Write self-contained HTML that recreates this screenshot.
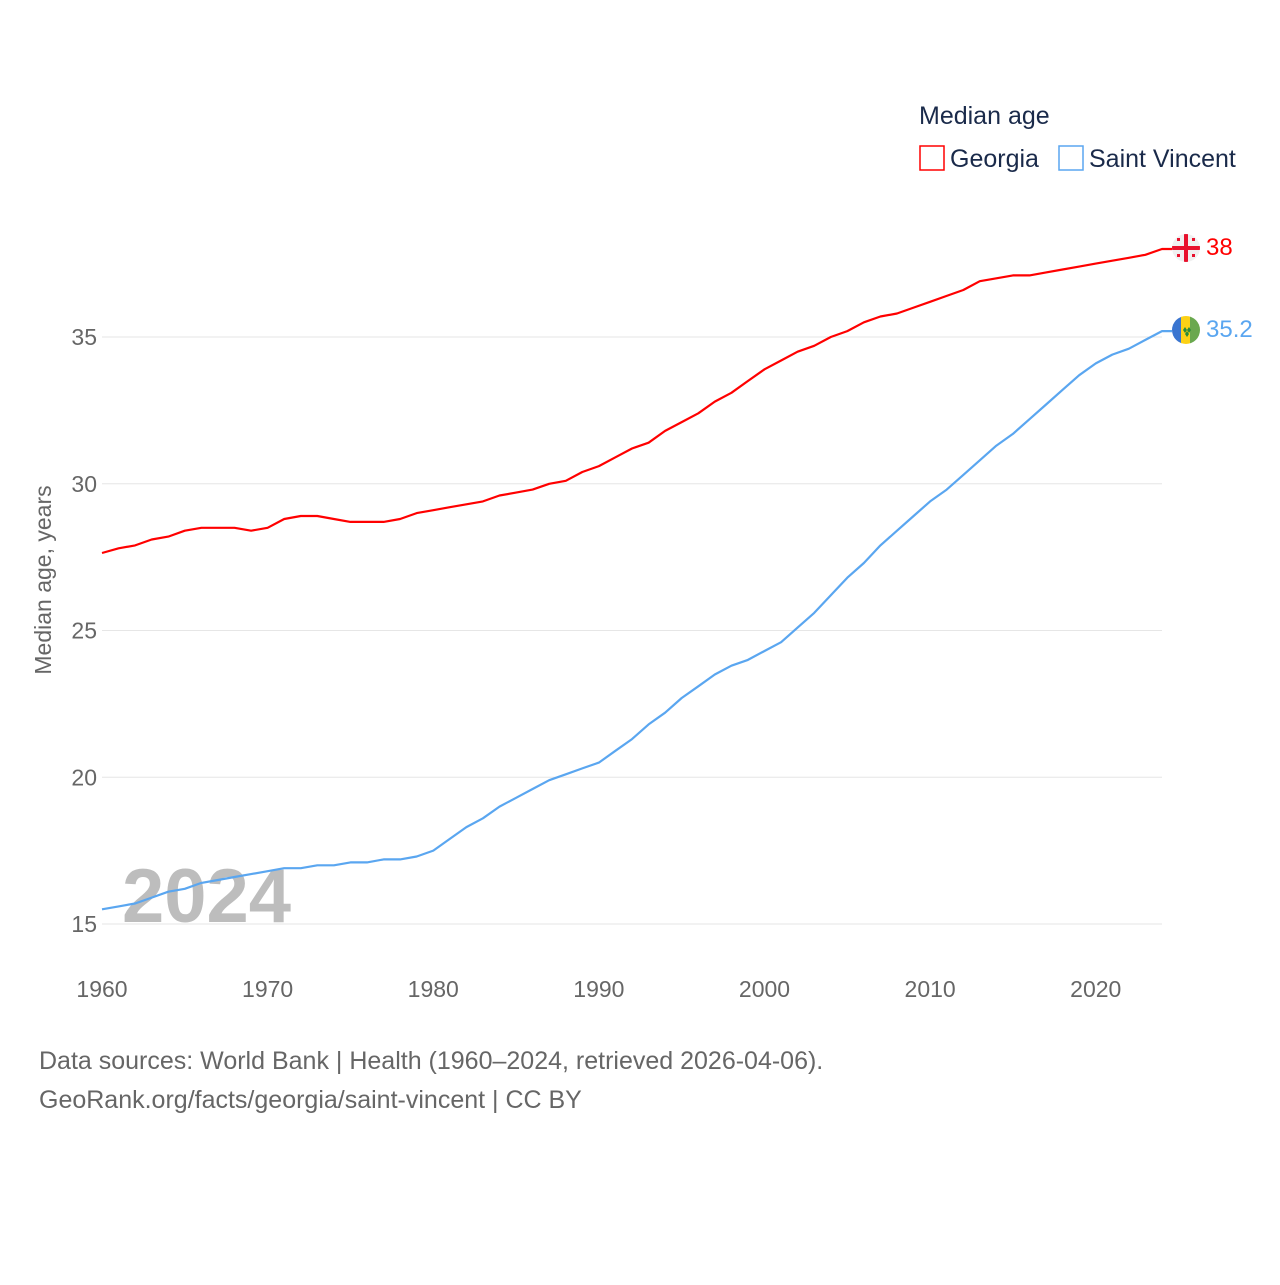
<!DOCTYPE html>
<html><head><meta charset="utf-8"><style>
body{margin:0;background:#fff;font-family:"Liberation Sans",sans-serif;}
svg text{font-family:"Liberation Sans",sans-serif;}
</style></head><body>
<svg id="chart" width="1280" height="1280" viewBox="0 0 1280 1280">
<g id="grid"></g>
<g id="xticks"></g>
<text x="51" y="580" transform="rotate(-90 51 580)" text-anchor="middle" font-size="23" fill="#666">Median age, years</text>
<text x="122" y="922" font-size="76" font-weight="bold" fill="#bdbdbd">2024</text>
<g id="lines"></g>
<g>
<text x="919" y="124" font-size="25" fill="#1a2a4a">Median age</text>
<g><rect x="920" y="146" width="24" height="24" fill="none" stroke="#f00" stroke-width="1.5"/><text x="950" y="167" font-size="25" fill="#1a2a4a">Georgia</text></g>
<g><rect x="1059" y="146" width="24" height="24" fill="none" stroke="#5aa6f0" stroke-width="1.5"/><text x="1089" y="167" font-size="25" fill="#1a2a4a">Saint Vincent</text></g>
</g>
<g>
<clipPath id="ge"><circle cx="1186" cy="248" r="14"/></clipPath>
<g clip-path="url(#ge)">
<rect x="1172" y="234" width="28" height="28" fill="#f0f0f0"/><rect x="1172" y="246" width="28" height="4" fill="#e8112d"/><rect x="1184" y="234" width="4" height="28" fill="#e8112d"/>
<g fill="#e8112d"><rect x="1177" y="238" width="3" height="3"/><rect x="1192" y="238" width="3" height="3"/><rect x="1177" y="254" width="3" height="3"/><rect x="1192" y="254" width="3" height="3"/></g>
</g>
</g>
<g>
<clipPath id="vc"><circle cx="1186" cy="330" r="14"/></clipPath>
<g clip-path="url(#vc)"><rect x="1172" y="316" width="10" height="28" fill="#3a75d0"/><rect x="1181" y="316" width="10" height="28" fill="#fcd116"/><rect x="1190" y="316" width="10" height="28" fill="#6aa84f"/>
<path d="M1183 330l2 -3 2 3 -2 3z M1187 330l2 -3 2 3 -2 3z M1185 334l2 -3 2 3 -2 3z" fill="#2a8a3a"/></g>
</g>
<text x="1206" y="255" font-size="24" fill="#f00">38</text>
<text x="1206" y="337" font-size="24" fill="#5aa6f0">35.2</text>
<text x="39" y="1069" font-size="25" fill="#666">Data sources: World Bank | Health (1960–2024, retrieved 2026-04-06).</text>
<text x="39" y="1108" font-size="25" fill="#666">GeoRank.org/facts/georgia/saint-vincent | CC BY</text>
</svg>
<script>
const years = [];
for (let y = 1960; y <= 2024; y++) years.push(y);
const georgia = [27.64,27.8,27.9,28.1,28.2,28.4,28.5,28.5,28.5,28.4,28.5,28.8,28.9,28.9,28.8,28.7,28.7,28.7,28.8,29.0,29.1,29.2,29.3,29.4,29.6,29.7,29.8,30.0,30.1,30.4,30.6,30.9,31.2,31.4,31.8,32.1,32.4,32.8,33.1,33.5,33.9,34.2,34.5,34.7,35.0,35.2,35.5,35.7,35.8,36.0,36.2,36.4,36.6,36.9,37.0,37.1,37.1,37.2,37.3,37.4,37.5,37.6,37.7,37.8,38.0];
const saintVincent = [15.5,15.6,15.7,15.9,16.1,16.2,16.4,16.5,16.6,16.7,16.8,16.9,16.9,17.0,17.0,17.1,17.1,17.2,17.2,17.3,17.5,17.9,18.3,18.6,19.0,19.3,19.6,19.9,20.1,20.3,20.5,20.9,21.3,21.8,22.2,22.7,23.1,23.5,23.8,24.0,24.3,24.6,25.1,25.6,26.2,26.8,27.3,27.9,28.4,28.9,29.4,29.8,30.3,30.8,31.3,31.7,32.2,32.7,33.2,33.7,34.1,34.4,34.6,34.9,35.2];
const yTicks = [15,20,25,30,35];
const xTicks = [1960,1970,1980,1990,2000,2010,2020];
const NS = "http://www.w3.org/2000/svg";
const xs = v => 102 + (v - 1960) * (1162 - 102) / 64;
const ys = v => 924 - (v - 15) * (924 - 337) / 20;
const grid = document.getElementById('grid');
yTicks.forEach(t => {
  const l = document.createElementNS(NS,'line');
  l.setAttribute('x1',102); l.setAttribute('x2',1162);
  l.setAttribute('y1',ys(t)); l.setAttribute('y2',ys(t));
  l.setAttribute('stroke','#e6e6e6'); l.setAttribute('stroke-width','1');
  
  
  grid.appendChild(l);
  const tx = document.createElementNS(NS,'text');
  tx.setAttribute('x',97); tx.setAttribute('y',ys(t)+8);
  tx.setAttribute('text-anchor','end'); tx.setAttribute('font-size','23'); tx.setAttribute('fill','#666');
  tx.textContent = t;
  
  
  grid.appendChild(tx);
});
const xg = document.getElementById('xticks');
xTicks.forEach(t => {
  const tx = document.createElementNS(NS,'text');
  tx.setAttribute('x',xs(t)); tx.setAttribute('y',997);
  tx.setAttribute('text-anchor','middle'); tx.setAttribute('font-size','23'); tx.setAttribute('fill','#666');
  tx.textContent = t;
  
  
  xg.appendChild(tx);
});
const lines = document.getElementById('lines');
function drawLine(vals, color, name) {
  let d = vals.map((v,i) => (i?'L':'M') + xs(years[i]).toFixed(1) + ' ' + ys(v).toFixed(1)).join(' ');
  d += ' L1172 ' + ys(vals[vals.length-1]).toFixed(1);
  const p = document.createElementNS(NS,'path');
  p.setAttribute('d', d); p.setAttribute('fill','none'); p.setAttribute('stroke',color);
  p.setAttribute('stroke-width','2.2'); p.setAttribute('stroke-linejoin','round');
  
  
  lines.appendChild(p);
}
drawLine(saintVincent, '#5aa6f0', 'saint-vincent-line');
drawLine(georgia, '#ff0000', 'georgia-line');
</script>
</body></html>
